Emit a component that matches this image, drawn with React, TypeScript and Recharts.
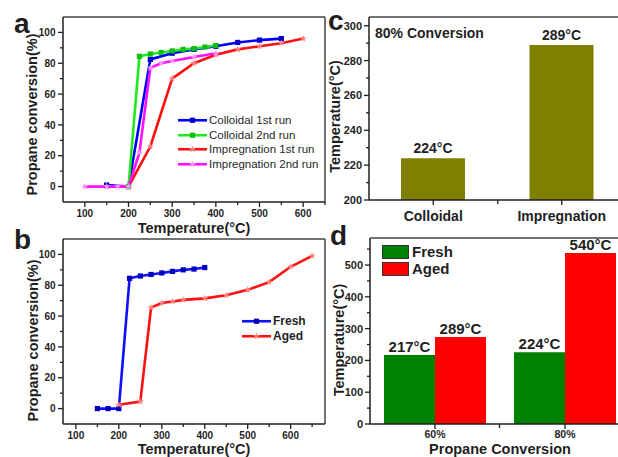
import {
  Bar,
  BarChart,
  LabelList,
  Legend,
  Line,
  LineChart,
  ReferenceLine,
  XAxis,
  YAxis,
} from "recharts";

const FONT = '"Liberation Sans", Arial, Helvetica, sans-serif';
const INK = "#1f1f1f";

// (a) light-off curves, colloidal vs impregnation
const colloid1Temp = [150, 200, 250, 300, 350, 400, 450, 500, 550];
const colloid1Conv = [1, 0, 82.5, 86.5, 89, 91, 93.5, 95, 96];
const colloid2Temp = [200, 225, 250, 275, 300, 325, 350, 375, 400];
const colloid2Conv = [0, 84.5, 86, 87, 88, 89, 89.5, 90.5, 91.5];
const impreg1Temp = [150, 200, 250, 300, 350, 400, 450, 500, 550, 600];
const impreg1Conv = [0, 0, 26, 70, 80, 85.5, 89, 91, 93, 96];
const impreg2Temp = [100, 150, 175, 200, 225, 250, 275, 300, 350, 400];
const impreg2Conv = [0, 0, 0, 0, 22, 77, 80, 81.5, 84, 86.5];

// (b) fresh vs aged
const freshTemp = [150, 175, 200, 225, 250, 275, 300, 325, 350, 375, 400];
const freshConv = [0, 0, 0, 84.5, 86, 87, 88, 89, 90, 90.5, 91.5];
const agedTemp = [200, 250, 275, 300, 325, 350, 400, 450, 500, 550, 600, 650];
const agedConv = [2.5, 4.5, 65.5, 68.5, 69.5, 70.5, 71.5, 73.5, 77, 82, 92, 99];

// (c) T80
const methods = ["Colloidal", "Impregnation"];
const t80 = [224, 289];
const t80Labels = ["224°C", "289°C"];

// (d) T60 / T80, fresh vs aged
const convLevels = ["60%", "80%"];
const freshT = [217, 226];
const agedT = [274, 538];
const freshTLabels = ["217°C", "224°C"];
const agedTLabels = ["289°C", "540°C"];

// tick labels
const aTempTicks = [100, 150, 200, 250, 300, 350, 400, 450, 500, 550, 600, 650];
const bTempTicks = [100, 150, 200, 250, 300, 350, 400, 450, 500, 550, 600, 650];
const convTicks = [0, 10, 20, 30, 40, 50, 60, 70, 80, 90, 100];
const cTempTicks = [200, 210, 220, 230, 240, 250, 260, 270, 280, 290, 300];
const dTempTicks = [0, 50, 100, 150, 200, 250, 300, 350, 400, 450, 500, 550];

const pts = (xs: number[], ys: number[]) => xs.map((t, i) => ({ t, v: ys[i] }));

const aSeries = [
  { name: "Colloidal 1st run", color: "#0000ff", mark: "#0000cc", kind: "square", data: pts(colloid1Temp, colloid1Conv) },
  { name: "Colloidal 2nd run", color: "#1ee81e", mark: "#10c010", kind: "square", data: pts(colloid2Temp, colloid2Conv) },
  { name: "Impregnation 1st run", color: "#ff1010", mark: "#ff8080", kind: "star", data: pts(impreg1Temp, impreg1Conv) },
  { name: "Impregnation 2nd run", color: "#ff10ff", mark: "#ff90ff", kind: "star", data: pts(impreg2Temp, impreg2Conv) },
];
const bSeries = [
  { name: "Fresh", color: "#1010ff", mark: "#0000c0", kind: "square", data: pts(freshTemp, freshConv) },
  { name: "Aged", color: "#ff1010", mark: "#ff8080", kind: "star", data: pts(agedTemp, agedConv) },
];

const cData = methods.map((m, i) => ({ name: m, temp: t80[i], label: t80Labels[i] }));
const dData = convLevels.map((c, i) => ({
  name: c,
  fresh: freshT[i],
  aged: agedT[i],
  freshLabel: freshTLabels[i],
  agedLabel: agedTLabels[i],
}));

function starPath(cx: number, cy: number, R: number, r: number) {
  let d = "";
  for (let i = 0; i < 10; i++) {
    const a = (-90 + i * 36) * (Math.PI / 180);
    const rad = i % 2 === 0 ? R : r;
    d += (i === 0 ? "M" : "L") + (cx + rad * Math.cos(a)).toFixed(2) + " " + (cy + rad * Math.sin(a)).toFixed(2);
  }
  return d + "Z";
}

function Marker({ kind, cx, cy, color }: { kind: string; cx: number; cy: number; color: string }) {
  if (kind === "square") return <rect x={cx - 2.6} y={cy - 2.6} width={5.2} height={5.2} fill={color} />;
  return <path d={starPath(cx, cy, 3.6, 1.6)} fill={color} />;
}

const dotFor = (kind: string, color: string) => (p: any) => (
  <Marker key={`m-${p.index}`} kind={kind} cx={p.cx} cy={p.cy} color={color} />
);

const tickText = { fill: INK, fontFamily: FONT, fontWeight: "bold" as const };

const xTick = (isMajor: (v: number) => boolean, fs: number, dy: number) => (p: any) => {
  const major = isMajor(p.payload.value);
  return (
    <g>
      <line x1={p.x} x2={p.x} y1={p.y} y2={p.y + (major ? 5 : 3)} stroke={INK} strokeWidth={1.3} />
      {major && (
        <text x={p.x} y={p.y + dy} textAnchor="middle" fontSize={fs} {...tickText}>
          {p.payload.value}
        </text>
      )}
    </g>
  );
};

const yTick = (isMajor: (v: number) => boolean, fs: number, dx: number) => (p: any) => {
  const major = isMajor(p.payload.value);
  return (
    <g>
      <line x1={p.x} x2={p.x - (major ? 5 : 3)} y1={p.y} y2={p.y} stroke={INK} strokeWidth={1.3} />
      {major && (
        <text x={p.x - dx} y={p.y} dy="0.36em" textAnchor="end" fontSize={fs} {...tickText}>
          {p.payload.value}
        </text>
      )}
    </g>
  );
};

const catTick = (fs: number, dy: number, half: number) => (p: any) => (
  <g>
    <line x1={p.x} x2={p.x} y1={p.y} y2={p.y + 5} stroke={INK} strokeWidth={1.3} />
    {p.index === 0 && <line x1={p.x + half} x2={p.x + half} y1={p.y} y2={p.y + 4} stroke={INK} strokeWidth={1.3} />}
    <text x={p.x} y={p.y + dy} textAnchor="middle" fontSize={fs} {...tickText}>
      {p.payload.value}
    </text>
  </g>
);

// rotated y-axis title, centred at x (chart px), shifted down by dy from the plot middle
const yTitle = (text: string, x: number, dy: number) => (props: any) => {
  const vb = props.viewBox || {};
  const cy = (vb.y ?? 0) + (vb.height ?? 0) / 2 + dy;
  return (
    <text
      x={x}
      y={cy}
      transform={`rotate(-90, ${x}, ${cy})`}
      textAnchor="middle"
      dy="0.36em"
      fill={INK}
      fontSize={14.5}
      fontWeight="bold"
      fontFamily={FONT}
    >
      {text}
    </text>
  );
};

const axisLine = { stroke: INK, strokeWidth: 1.5 };
const titleStyle = { fill: INK, fontSize: 14.5, fontWeight: "bold", fontFamily: FONT };

function lineLegend(series: typeof aSeries, fs: number, weight: string, rowH: number) {
  return () => (
    <div style={{ fontFamily: FONT, fontSize: fs, fontWeight: weight as any, color: INK }}>
      {series.map((s) => (
        <div key={s.name} style={{ display: "flex", alignItems: "center", height: rowH }}>
          <svg width={29} height={rowH} style={{ display: "block" }}>
            <line x1={0} x2={29} y1={rowH / 2} y2={rowH / 2} stroke={s.color} strokeWidth={2.6} />
            <Marker kind={s.kind} cx={14.5} cy={rowH / 2} color={s.mark} />
          </svg>
          <span style={{ marginLeft: 2, whiteSpace: "nowrap", lineHeight: `${rowH}px` }}>{s.name}</span>
        </div>
      ))}
    </div>
  );
}

function PanelA() {
  return (
    <LineChart width={330} height={240} margin={{ top: 17, right: 5, left: 0, bottom: 0 }}>
      <XAxis
        type="number"
        dataKey="t"
        domain={[50, 650]}
        ticks={aTempTicks}
        interval={0}
        tickLine={false}
        tickSize={0}
        tickMargin={0}
        tick={xTick((v) => v % 100 === 0 && v <= 600, 10, 15)}
        axisLine={axisLine}
        height={38}
        label={{ value: "Temperature(°C)", position: "insideBottom", offset: 7.5, ...titleStyle }}
      />
      <YAxis
        type="number"
        domain={[-10, 110]}
        ticks={convTicks}
        interval={0}
        tickLine={false}
        tickSize={0}
        tickMargin={0}
        tick={yTick((v) => v % 20 === 0, 10, 7.5)}
        axisLine={axisLine}
        width={63}
        label={{ content: yTitle("Propane conversion(%)", 32, 5) }}
      />
      <ReferenceLine y={110} stroke="#444" strokeWidth={1.5} />
      <ReferenceLine x={650} stroke="#444" strokeWidth={1.5} />
      {aSeries.map((s) => (
        <Line
          key={s.name}
          name={s.name}
          data={s.data}
          dataKey="v"
          type="linear"
          stroke={s.color}
          strokeWidth={2.6}
          dot={dotFor(s.kind, s.mark)}
          activeDot={false}
          isAnimationActive={false}
        />
      ))}
      <Legend
        layout="vertical"
        align="center"
        verticalAlign="middle"
        wrapperStyle={{ left: 178, top: 113, width: "auto" }}
        content={lineLegend(aSeries, 11.5, "normal", 14.5)}
      />
    </LineChart>
  );
}

function PanelB() {
  return (
    <LineChart width={330} height={235} margin={{ top: 17, right: 5, left: 0, bottom: 0 }}>
      <XAxis
        type="number"
        dataKey="t"
        domain={[70, 680]}
        ticks={bTempTicks}
        interval={0}
        tickLine={false}
        tickSize={0}
        tickMargin={0}
        tick={xTick((v) => v % 100 === 0, 10, 15)}
        axisLine={axisLine}
        height={33}
        label={{ value: "Temperature(°C)", position: "insideBottom", offset: 3.5, ...titleStyle }}
      />
      <YAxis
        type="number"
        domain={[-10, 110]}
        ticks={convTicks}
        interval={0}
        tickLine={false}
        tickSize={0}
        tickMargin={0}
        tick={yTick((v) => v % 20 === 0, 10, 7.5)}
        axisLine={axisLine}
        width={63}
        label={{ content: yTitle("Propane conversion(%)", 33, 9) }}
      />
      <ReferenceLine y={110} stroke="#444" strokeWidth={1.5} />
      <ReferenceLine x={680} stroke="#444" strokeWidth={1.5} />
      {bSeries.map((s) => (
        <Line
          key={s.name}
          name={s.name}
          data={s.data}
          dataKey="v"
          type="linear"
          stroke={s.color}
          strokeWidth={2.6}
          dot={dotFor(s.kind, s.mark)}
          activeDot={false}
          isAnimationActive={false}
        />
      ))}
      <Legend
        layout="vertical"
        align="center"
        verticalAlign="middle"
        wrapperStyle={{ left: 242, top: 92, width: "auto" }}
        content={lineLegend(bSeries as any, 12, "bold", 14.5)}
      />
    </LineChart>
  );
}

function PanelC() {
  return (
    <BarChart width={306} height={240} data={cData} margin={{ top: 17, right: 2, left: 0, bottom: 0 }}>
      <XAxis
        dataKey="name"
        tickLine={false}
        tickSize={0}
        tickMargin={0}
        interval={0}
        tick={catTick(14, 20.5, 64.5)}
        axisLine={axisLine}
        height={40}
      />
      <YAxis
        type="number"
        domain={[200, 305]}
        ticks={cTempTicks}
        interval={0}
        tickLine={false}
        tickSize={0}
        tickMargin={0}
        tick={yTick((v) => v % 20 === 0, 11, 7)}
        axisLine={axisLine}
        width={47}
        label={{ content: yTitle("Temperature(°C)", 13, 8) }}
      />
      <ReferenceLine y={305} stroke="#444" strokeWidth={1.5} />
      <Bar dataKey="temp" fill="#808000" barSize={64} isAnimationActive={false}>
        <LabelList dataKey="label" position="top" offset={5} fill={INK} fontSize={14} fontWeight="bold" fontFamily={FONT} />
      </Bar>
    </BarChart>
  );
}

const dLegendItems = [
  { name: "Fresh", color: "#008000" },
  { name: "Aged", color: "#ff0000" },
];

function PanelD() {
  return (
    <BarChart width={310} height={235} data={dData} barGap={0} margin={{ top: 16, right: 2, left: 0, bottom: 0 }}>
      <XAxis
        dataKey="name"
        tickLine={false}
        tickSize={0}
        tickMargin={0}
        interval={0}
        tick={catTick(10.5, 14, 64.5)}
        axisLine={axisLine}
        height={33}
        label={{ value: "Propane Conversion", position: "insideBottom", offset: 3.5, ...titleStyle }}
      />
      <YAxis
        type="number"
        domain={[0, 585]}
        ticks={dTempTicks}
        interval={0}
        tickLine={false}
        tickSize={0}
        tickMargin={0}
        tick={yTick((v) => v % 100 === 0, 11, 7)}
        axisLine={axisLine}
        width={48}
        label={{ content: yTitle("Temperature(°C)", 17, 9) }}
      />
      <ReferenceLine y={585} stroke="#444" strokeWidth={1.5} />
      <Bar dataKey="fresh" name="Fresh" fill="#008000" barSize={51} isAnimationActive={false}>
        <LabelList dataKey="freshLabel" position="top" offset={3} fill={INK} fontSize={15} fontWeight="bold" fontFamily={FONT} />
      </Bar>
      <Bar dataKey="aged" name="Aged" fill="#ff0000" barSize={51} isAnimationActive={false}>
        <LabelList dataKey="agedLabel" position="top" offset={3} fill={INK} fontSize={15} fontWeight="bold" fontFamily={FONT} />
      </Bar>
      <Legend
        layout="vertical"
        align="center"
        verticalAlign="middle"
        wrapperStyle={{ left: 60, top: 22, width: "auto" }}
        content={() => (
          <div style={{ fontFamily: FONT, fontSize: 15, fontWeight: "bold", color: INK }}>
            {dLegendItems.map((it) => (
              <div key={it.name} style={{ display: "flex", alignItems: "center", height: 16.5 }}>
                <div style={{ width: 25, height: 12, background: it.color, border: "1px solid #333" }} />
                <span style={{ marginLeft: 3, lineHeight: "16.5px" }}>{it.name}</span>
              </div>
            ))}
          </div>
        )}
      />
    </BarChart>
  );
}

export default function App() {
  return (
    <div
      style={{
        position: "absolute",
        left: 0,
        top: 0,
        width: 618,
        height: 457,
        overflow: "hidden",
        background: "#fff",
        fontFamily: FONT,
      }}
    >
      <div style={{ position: "absolute", left: 0, top: 0 }}>
        <PanelA />
      </div>
      <div style={{ position: "absolute", left: 0, top: 222 }}>
        <PanelB />
      </div>
      <div style={{ position: "absolute", left: 322, top: 0 }}>
        <PanelC />
      </div>
      <div style={{ position: "absolute", left: 322, top: 222 }}>
        <PanelD />
      </div>
      <svg
        width={618}
        height={457}
        style={{ position: "absolute", left: 0, top: 0, pointerEvents: "none" }}
      >
        <g fill={INK} fontFamily={FONT} fontWeight="bold">
          <text x={14} y={33} fontSize={28}>a</text>
          <text x={14} y={249} fontSize={28}>b</text>
          <text x={328} y={30} fontSize={28}>c</text>
          <text x={330} y={245} fontSize={28}>d</text>
          <text x={375} y={37.5} fontSize={14}>80% Conversion</text>
        </g>
      </svg>
    </div>
  );
}
